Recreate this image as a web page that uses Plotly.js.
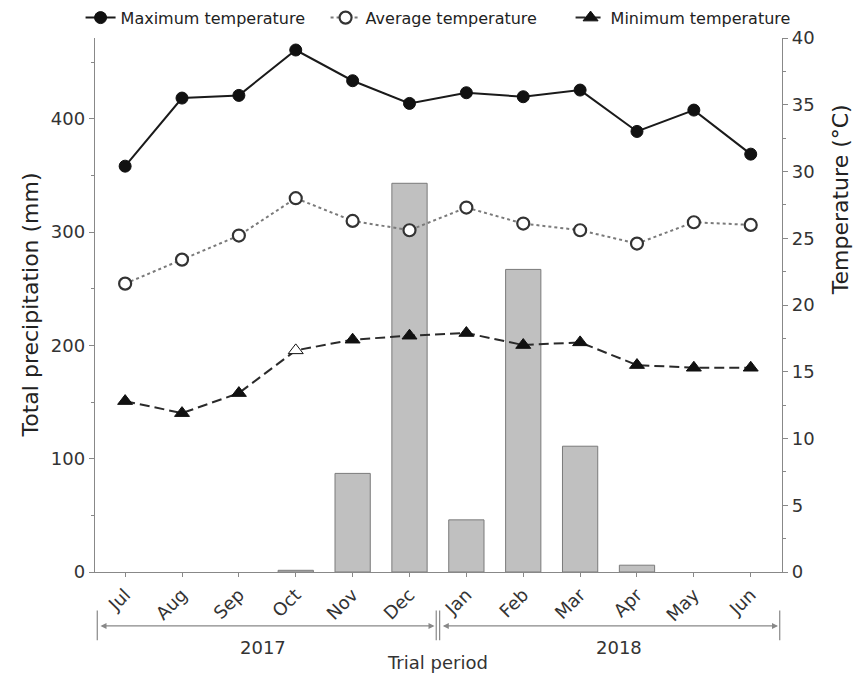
<!DOCTYPE html>
<html>
<head>
<meta charset="utf-8">
<script src="https://cdn.plot.ly/plotly-3.0.1.min.js"></script>
<style>html,body{margin:0;padding:0;background:#fff;}#chart{width:858px;height:673px;}</style>
</head>
<body>
<div id="chart"></div>
<script>
var months = ["Jul","Aug","Sep","Oct","Nov","Dec","Jan","Feb","Mar","Apr","May","Jun"];
var precipitation = [0, 0, 0, 1.5, 87, 343, 46, 267, 111, 6, 0, 0];
var maxTemp = [30.4, 35.5, 35.7, 39.1, 36.8, 35.1, 35.9, 35.6, 36.1, 33.0, 34.6, 31.3];
var avgTemp = [21.6, 23.4, 25.2, 28.0, 26.3, 25.6, 27.3, 26.1, 25.6, 24.6, 26.2, 26.0];
var minTemp = [12.8, 11.9, 13.4, 16.6, 17.4, 17.7, 17.9, 17.0, 17.2, 15.5, 15.3, 15.3];
var yearLabels = ["2017", "2018"];

var FONT = "DejaVu Sans, Arial, sans-serif";
var minFill = months.map(function(m){ return m === "Oct" ? "#ffffff" : "#111111"; });
var barLineWidth = precipitation.map(function(v){ return v > 0 ? 1 : 0; });

var traces = [
  {type:"bar", x:months, y:precipitation, yaxis:"y", width:0.62, showlegend:false,
   marker:{color:"#c0c0c0", line:{color:"#7a7a7a", width:barLineWidth}}, hoverinfo:"y"},
  {type:"scatter", mode:"lines+markers", name:"Maximum temperature", x:months, y:maxTemp, yaxis:"y2",
   line:{color:"#1a1a1a", width:2},
   marker:{symbol:"circle", size:12, color:"#111111", line:{color:"#111111", width:1}}},
  {type:"scatter", mode:"lines+markers", name:"Average temperature", x:months, y:avgTemp, yaxis:"y2",
   line:{color:"#7a7a7a", width:2, dash:"dot"},
   marker:{symbol:"circle", size:12, color:"#ffffff", line:{color:"#333333", width:2.2}}},
  {type:"scatter", mode:"lines+markers", name:"Minimum temperature", x:months, y:minTemp, yaxis:"y2",
   line:{color:"#2a2a2a", width:2, dash:"10px,5px"},
   marker:{symbol:"triangle-up", size:13, color:minFill, line:{color:"#111111", width:1}}}
];

var gray = "#888888";
var layout = {
  width:858, height:673,
  margin:{l:95, r:76, t:38, b:101, pad:0, autoexpand:false},
  paper_bgcolor:"#ffffff", plot_bgcolor:"#ffffff",
  font:{family:FONT, size:18, color:"#333333"},
  showlegend:true,
  legend:{orientation:"h", x:-0.021, xanchor:"left", y:1.038, yanchor:"middle",
          font:{family:FONT, size:16, color:"#222222"}, bgcolor:"rgba(0,0,0,0)",
          entrywidth:200, entrywidthmode:"pixels", traceorder:"normal"},
  xaxis:{type:"category", range:[-0.53, 11.55], showline:true, linecolor:gray, linewidth:1.2,
         ticks:"outside", ticklen:4, tickcolor:gray, tickangle:-45, showgrid:false, zeroline:false,
         tickfont:{family:FONT, size:18, color:"#333333"}},
  yaxis:{range:[0, 471.2], showline:true, linecolor:gray, linewidth:1.2, ticks:"outside", ticklen:5,
         tickcolor:gray, dtick:100, showgrid:false, zeroline:false,
         minor:{dtick:50, ticks:"outside", ticklen:3, tickcolor:gray},
         tickfont:{family:FONT, size:18, color:"#333333"}},
  yaxis2:{range:[0, 40], overlaying:"y", side:"right", showline:true, linecolor:gray, linewidth:1.2,
          ticks:"outside", ticklen:5, tickcolor:gray, dtick:5, showgrid:false, zeroline:false,
          minor:{dtick:2.5, ticks:"outside", ticklen:3, tickcolor:gray},
          tickfont:{family:FONT, size:18, color:"#333333"}},
  shapes:[
    {type:"line", xref:"x", yref:"paper", x0:-0.49, x1:-0.49, y0:-0.072, y1:-0.128, line:{color:gray, width:1.2}},
    {type:"line", xref:"x", yref:"paper", x0:5.47, x1:5.47, y0:-0.072, y1:-0.128, line:{color:gray, width:1.2}},
    {type:"line", xref:"x", yref:"paper", x0:5.53, x1:5.53, y0:-0.072, y1:-0.128, line:{color:gray, width:1.2}},
    {type:"line", xref:"x", yref:"paper", x0:11.51, x1:11.51, y0:-0.072, y1:-0.128, line:{color:gray, width:1.2}}
  ],
  annotations:[
    {xref:"x", yref:"paper", x:5.44, y:-0.101, axref:"x", ayref:"pixel", ax:-0.46, ay:0, text:"",
     showarrow:true, arrowside:"end+start", arrowhead:2, arrowsize:1, arrowwidth:1.2, arrowcolor:gray, standoff:0, startstandoff:0},
    {xref:"x", yref:"paper", x:11.48, y:-0.101, axref:"x", ayref:"pixel", ax:5.56, ay:0, text:"",
     showarrow:true, arrowside:"end+start", arrowhead:2, arrowsize:1, arrowwidth:1.2, arrowcolor:gray, standoff:0, startstandoff:0},
    {xref:"x", yref:"paper", x:2.42, y:-0.141, text:yearLabels[0], showarrow:false, yanchor:"middle",
     font:{family:FONT, size:18, color:"#333333"}},
    {xref:"x", yref:"paper", x:8.68, y:-0.141, text:yearLabels[1], showarrow:false, yanchor:"middle",
     font:{family:FONT, size:18, color:"#333333"}},
    {xref:"x", yref:"paper", x:5.5, y:-0.169, text:"Trial period", showarrow:false, yanchor:"middle",
     font:{family:FONT, size:18, color:"#333333"}},
    {xref:"paper", yref:"paper", x:-0.094, y:0.5, text:"Total precipitation (mm)", showarrow:false,
     textangle:-90, xanchor:"center", yanchor:"middle", font:{family:FONT, size:22, color:"#222222"}},
    {xref:"paper", yref:"paper", x:1.085, y:0.697, text:"Temperature (°C)", showarrow:false,
     textangle:-90, xanchor:"center", yanchor:"middle", font:{family:FONT, size:22, color:"#222222"}}
  ]
};

Plotly.newPlot("chart", traces, layout, {displayModeBar:false, staticPlot:true});
</script>
</body>
</html>
